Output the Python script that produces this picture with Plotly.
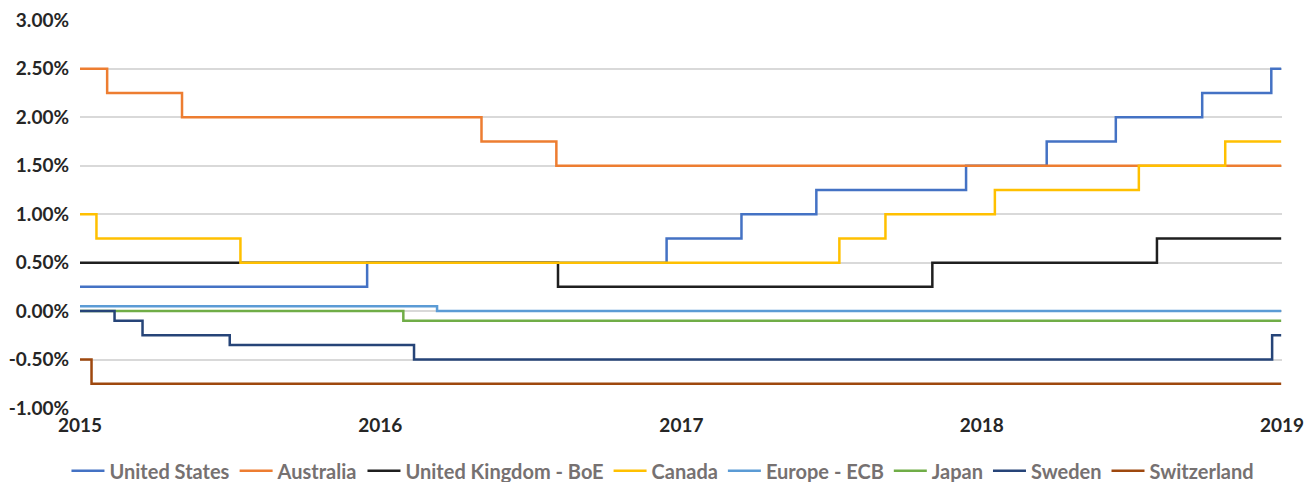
import plotly.graph_objects as go

END = "2018-12-31"

us_dates = ["2015-01-01", "2015-12-16", "2016-12-14", "2017-03-15", "2017-06-14", "2017-12-13",
            "2018-03-21", "2018-06-13", "2018-09-26", "2018-12-19", END]
us_vals = [0.25, 0.50, 0.75, 1.00, 1.25, 1.50, 1.75, 2.00, 2.25, 2.50, 2.50]

au_dates = ["2015-01-01", "2015-02-03", "2015-05-05", "2016-05-03", "2016-08-02", END]
au_vals = [2.50, 2.25, 2.00, 1.75, 1.50, 1.50]

uk_dates = ["2015-01-01", "2016-08-04", "2017-11-02", "2018-08-02", END]
uk_vals = [0.50, 0.25, 0.50, 0.75, 0.75]

ca_dates = ["2015-01-01", "2015-01-21", "2015-07-15", "2017-07-12", "2017-09-06", "2018-01-17",
            "2018-07-11", "2018-10-24", END]
ca_vals = [1.00, 0.75, 0.50, 0.75, 1.00, 1.25, 1.50, 1.75, 1.75]

ecb_dates = ["2015-01-01", "2016-03-10", END]
ecb_vals = [0.05, 0.00, 0.00]

jp_dates = ["2015-01-01", "2016-01-29", END]
jp_vals = [0.00, -0.10, -0.10]

se_dates = ["2015-01-01", "2015-02-12", "2015-03-18", "2015-07-02", "2016-02-11", "2018-12-20", END]
se_vals = [0.00, -0.10, -0.25, -0.35, -0.50, -0.25, -0.25]

ch_dates = ["2015-01-01", "2015-01-15", END]
ch_vals = [-0.50, -0.75, -0.75]

series = [
    ("United States", us_dates, us_vals, "#4472C4"),
    ("Australia", au_dates, au_vals, "#ED7D31"),
    ("United Kingdom - BoE", uk_dates, uk_vals, "#1F1F1F"),
    ("Canada", ca_dates, ca_vals, "#FFC000"),
    ("Europe - ECB", ecb_dates, ecb_vals, "#5B9BD5"),
    ("Japan", jp_dates, jp_vals, "#70AD47"),
    ("Sweden", se_dates, se_vals, "#264478"),
    ("Switzerland", ch_dates, ch_vals, "#9E480E"),
]

y_ticks = [-1.0, -0.5, 0.0, 0.5, 1.0, 1.5, 2.0, 2.5, 3.0]
y_ticktext = ["-1.00%", "-0.50%", "0.00%", "0.50%", "1.00%", "1.50%", "2.00%", "2.50%", "3.00%"]
x_ticks = ["2015-01-01", "2016-01-01", "2017-01-01", "2018-01-01", "2019-01-01"]
x_ticktext = ["2015", "2016", "2017", "2018", "2019"]

fig = go.Figure()
for name, d, v, c in series:
    fig.add_trace(go.Scatter(x=d, y=v, name=name, mode="lines",
                             line=dict(color=c, width=2.5, shape="hv")))

# the page body has an 8px default margin, so the figure is sized/offset accordingly
fig.update_layout(
    width=1305, height=474,
    margin=dict(l=72, r=31, t=12, b=74, autoexpand=False),
    paper_bgcolor="white", plot_bgcolor="white",
    font=dict(family="Lato", size=19, color="#262626"),
    showlegend=True,
    legend=dict(orientation="h", x=0.485, xanchor="center",
                y=-0.162, yanchor="middle",
                font=dict(family="Lato", size=20, color="#767171", weight="bold"),
                itemwidth=33, tracegroupgap=0),
)
fig.update_xaxes(range=["2015-01-01", "2019-01-01"], tickvals=x_ticks, ticktext=x_ticktext,
                 showgrid=False, zeroline=False, showline=False, ticks="", automargin=False,
                 ticklabelstandoff=4,
                 tickfont=dict(family="Lato", size=19, color="#262626", weight="bold"))
fig.update_yaxes(range=[-1.0, 3.004], tickvals=y_ticks, ticktext=y_ticktext,
                 showgrid=True, gridcolor="#D9D9D9", gridwidth=1.5, zeroline=False,
                 showline=False, ticks="", ticklabelstandoff=10, automargin=False,
                 tickfont=dict(family="Lato", size=19, color="#262626", weight="bold"))

fig.write_html("out.html")
